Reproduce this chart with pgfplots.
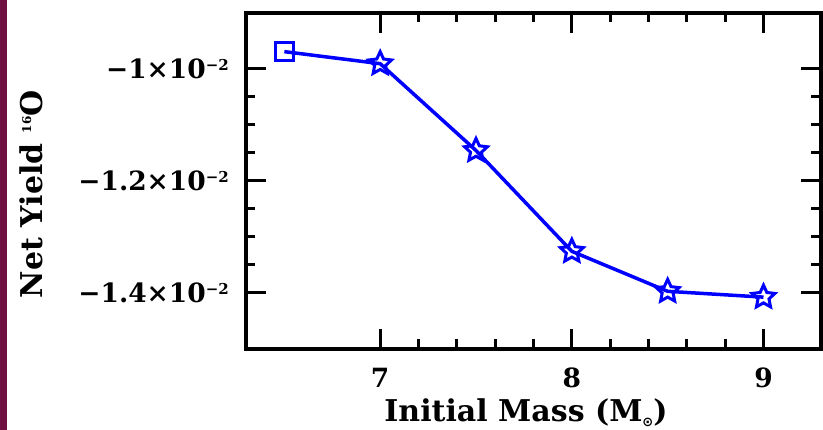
\documentclass[border=0pt]{standalone}
\usepackage{pgfplots}
\pgfplotsset{compat=1.18}
\usepackage{fontspec}
\setmainfont{DejaVu Serif}
\newfontfamily\dvs{DejaVu Sans}
\definecolor{strip}{RGB}{110,16,64}
\definecolor{pblue}{RGB}{0,0,255}
\pgfdeclareplotmark{ostar}{%
  \pgfpathmoveto{\pgfpointpolar{90}{\pgfplotmarksize}}%
  \pgfpathlineto{\pgfpointpolar{126}{0.48\pgfplotmarksize}}%
  \pgfpathlineto{\pgfpointpolar{162}{\pgfplotmarksize}}%
  \pgfpathlineto{\pgfpointpolar{198}{0.48\pgfplotmarksize}}%
  \pgfpathlineto{\pgfpointpolar{234}{\pgfplotmarksize}}%
  \pgfpathlineto{\pgfpointpolar{270}{0.48\pgfplotmarksize}}%
  \pgfpathlineto{\pgfpointpolar{306}{\pgfplotmarksize}}%
  \pgfpathlineto{\pgfpointpolar{342}{0.48\pgfplotmarksize}}%
  \pgfpathlineto{\pgfpointpolar{18}{\pgfplotmarksize}}%
  \pgfpathlineto{\pgfpointpolar{54}{0.48\pgfplotmarksize}}%
  \pgfpathclose
  \pgfusepathqstroke}
\newcommand{\tl}[1]{#1×10\raisebox{8.5pt}{\fontsize{15}{15}\selectfont −2}}
\begin{document}
\begin{tikzpicture}
\useasboundingbox (-246pt,-81pt) rectangle (577pt,349pt);
\fill[strip] (-246pt,-81pt) rectangle (-239pt,349pt);
\begin{axis}[
  scale only axis,
  width=575pt, height=336pt,
  xmin=6.3, xmax=9.3,
  ymin=-0.0150, ymax=-0.0090,
  scaled y ticks=false,
  xtick={7,8,9}, xticklabels={7,8,9},
  ytick={-0.014,-0.012,-0.010},
  yticklabels={\tl{−1.4},\tl{−1.2},\tl{−1}},
  minor x tick num=4,
  minor y tick num=3,
  major tick length=20pt,
  minor tick length=9.5pt,
  axis line style={line width=3.2pt},
  tick style={line width=3pt, black},
  tick label style={font=\bfseries\fontsize{26.5}{26.5}\selectfont},
  xticklabel style={anchor=north, inner sep=0pt, yshift=-19pt},
  yticklabel style={anchor=base east, inner sep=0pt, xshift=-17pt, yshift=-10pt},
  label style={font=\bfseries\fontsize{30}{30}\selectfont},
  xlabel={Initial Mass (M\raisebox{-5pt}{\fontsize{13}{13}\selectfont\dvs ⊙})},
  ylabel={Net Yield \raisebox{11pt}{\fontsize{12}{12}\selectfont 16}O},
  xlabel style={at={(axis description cs:0.487,-0.217)}, anchor=base},
  ylabel style={at={(axis description cs:-0.374,0.461)}, anchor=center},
  clip=false,
]
\addplot[pblue, line width=3.5pt] coordinates {
  (6.5,-0.00969) (7,-0.009905) (7.5,-0.011455) (8,-0.013256) (8.5,-0.01397) (9,-0.014074)
};
\addplot[pblue, only marks, mark=square, mark size=9pt, line width=3pt] coordinates {
  (6.5,-0.00969)
};
\addplot[pblue, only marks, mark=ostar, mark size=12pt, line width=3pt] coordinates {
  (7,-0.009905) (7.5,-0.011455) (8,-0.013256) (8.5,-0.01397) (9,-0.014074)
};
\end{axis}
\end{tikzpicture}
\end{document}
